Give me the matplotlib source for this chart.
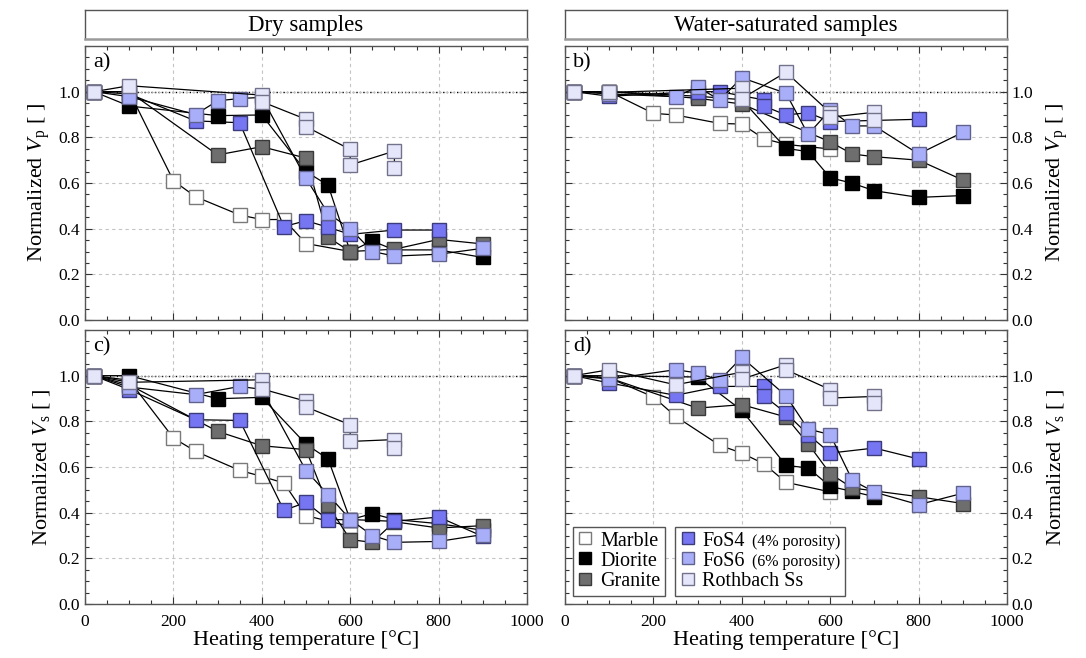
import matplotlib
matplotlib.use("Agg")
import matplotlib.pyplot as plt
from matplotlib.ticker import MultipleLocator
from matplotlib.offsetbox import AnchoredOffsetbox, VPacker, HPacker, TextArea, DrawingArea
from matplotlib.lines import Line2D

plt.rcParams['font.family'] = ['Liberation Serif', 'DejaVu Serif']
plt.rcParams['mathtext.fontset'] = 'custom'
plt.rcParams['mathtext.rm'] = 'Liberation Serif'
plt.rcParams['mathtext.it'] = 'Liberation Serif:italic'

# ------------------------------------------------------------
# data
# ------------------------------------------------------------

# a) Vp dry
a_marble_t = [20, 100, 200, 250, 350, 400, 450, 500, 600]
a_marble = [1.0, 1.0, 0.61, 0.54, 0.46, 0.44, 0.44, 0.335, 0.30]
a_diorite_t = [20, 100, 300, 400, 500, 550, 600, 650, 700, 800, 900]
a_diorite = [1.0, 0.937, 0.895, 0.898, 0.65, 0.59, 0.30, 0.346, 0.307, 0.307, 0.274]
a_granite_t = [20, 100, 300, 400, 500, 550, 600, 700, 800, 900]
a_granite = [1.0, 1.0, 0.723, 0.759, 0.709, 0.362, 0.30, 0.31, 0.353, 0.333]
a_fos4_t = [20, 100, 250, 350, 450, 500, 550, 600, 700, 800]
a_fos4 = [1.0, 0.99, 0.872, 0.864, 0.409, 0.435, 0.406, 0.375, 0.394, 0.394]
a_fos6_t = [20, 100, 250, 300, 350, 400, 500, 550, 600, 650, 700, 800, 900]
a_fos6 = [1.0, 0.978, 0.90, 0.96, 0.97, 0.975, 0.62, 0.467, 0.40, 0.30, 0.28, 0.288, 0.314]
a_roth_t = [20, 100, 400, 400, 500, 500, 600, 600, 700, 700]
a_roth = [1.0, 1.026, 0.985, 0.956, 0.879, 0.847, 0.747, 0.679, 0.74, 0.664]

# b) Vp water-saturated
b_marble_t = [20, 100, 200, 250, 350, 400, 450, 500, 600]
b_marble = [1.0, 1.0, 0.905, 0.898, 0.861, 0.858, 0.794, 0.769, 0.749]
b_diorite_t = [20, 100, 300, 400, 500, 550, 600, 650, 700, 800, 900]
b_diorite = [1.0, 1.0, 0.98, 0.965, 0.752, 0.737, 0.623, 0.599, 0.566, 0.537, 0.545]
b_granite_t = [20, 100, 300, 400, 600, 650, 700, 800, 900]
b_granite = [1.0, 1.0, 0.971, 0.946, 0.78, 0.727, 0.715, 0.70, 0.613]
b_fos4_t = [20, 100, 300, 350, 450, 450, 500, 550, 600, 800]
b_fos4 = [1.0, 0.98, 1.0, 1.0, 0.964, 0.937, 0.898, 0.908, 0.869, 0.879]
b_fos6_t = [20, 100, 250, 300, 350, 400, 500, 550, 600, 650, 700, 800, 900]
b_fos6 = [1.0, 0.99, 0.978, 1.02, 0.964, 1.061, 0.993, 0.813, 0.92, 0.85, 0.85, 0.727, 0.822]
b_roth_t = [20, 100, 400, 400, 500, 600, 600, 700, 700]
b_roth = [1.0, 0.997, 1.015, 0.97, 1.085, 0.908, 0.888, 0.91, 0.876]

# c) Vs dry
c_marble_t = [20, 100, 200, 250, 350, 400, 450, 500, 600]
c_marble = [1.0, 0.98, 0.727, 0.669, 0.585, 0.559, 0.53, 0.387, 0.34]
c_diorite_t = [20, 100, 300, 400, 500, 550, 600, 650, 700, 800, 900]
c_diorite = [1.0, 1.0, 0.899, 0.905, 0.70, 0.635, 0.369, 0.396, 0.37, 0.352, 0.323]
c_granite_t = [20, 100, 300, 400, 500, 550, 600, 650, 700, 800, 900]
c_granite = [1.0, 0.96, 0.756, 0.693, 0.676, 0.432, 0.282, 0.27, 0.36, 0.333, 0.343]
c_fos4_t = [20, 100, 250, 350, 450, 500, 550, 600, 700, 800, 900]
c_fos4 = [1.0, 0.939, 0.807, 0.804, 0.41, 0.445, 0.369, 0.37, 0.362, 0.381, 0.296]
c_fos6_t = [20, 100, 250, 350, 400, 500, 550, 600, 650, 700, 800, 900]
c_fos6 = [1.0, 0.95, 0.917, 0.953, 0.94, 0.584, 0.479, 0.37, 0.30, 0.27, 0.274, 0.304]
c_roth_t = [20, 100, 400, 400, 500, 500, 600, 600, 700, 700]
c_roth = [1.0, 0.971, 0.982, 0.942, 0.888, 0.863, 0.785, 0.712, 0.72, 0.683]

# d) Vs water-saturated
d_marble_t = [20, 100, 200, 250, 350, 400, 450, 500, 600]
d_marble = [1.0, 0.99, 0.907, 0.822, 0.695, 0.661, 0.614, 0.533, 0.491]
d_diorite_t = [20, 100, 300, 400, 500, 550, 600, 650, 700]
d_diorite = [1.0, 1.0, 0.994, 0.848, 0.607, 0.596, 0.515, 0.493, 0.47]
d_granite_t = [20, 100, 300, 400, 500, 550, 600, 650, 800, 900]
d_granite = [1.0, 0.99, 0.858, 0.873, 0.819, 0.702, 0.571, 0.508, 0.47, 0.44]
d_fos4_t = [20, 100, 250, 350, 450, 450, 500, 550, 600, 700, 800]
d_fos4 = [1.0, 0.968, 0.914, 0.953, 0.953, 0.912, 0.836, 0.742, 0.661, 0.683, 0.635]
d_fos6_t = [20, 100, 250, 300, 350, 400, 500, 550, 600, 650, 700, 800, 900]
d_fos6 = [1.0, 0.985, 1.026, 1.012, 0.98, 1.08, 0.912, 0.766, 0.742, 0.542, 0.49, 0.435, 0.485]
d_roth_t = [20, 100, 250, 400, 400, 500, 500, 600, 600, 700, 700]
d_roth = [1.0, 1.026, 0.96, 1.015, 0.985, 1.048, 1.026, 0.939, 0.902, 0.909, 0.88]

names = ["Marble", "Diorite", "Granite", "FoS4", "FoS6", "Rothbach Ss"]
notes = ["", "", "", "(4% porosity)", "(6% porosity)", ""]
faces = ["#ffffff", "#000000", "#6e6e6e", "#7676f2", "#a9aef9", "#e6e6fa"]
edges = ["#7a7a7a", "#000000", "#3a3a3a", "#3c3c7c", "#62628e", "#72728c"]
draw_order = [0, 5, 4, 3, 2, 1]

panels = [
    ("a)", [(a_marble_t, a_marble), (a_diorite_t, a_diorite), (a_granite_t, a_granite),
            (a_fos4_t, a_fos4), (a_fos6_t, a_fos6), (a_roth_t, a_roth)]),
    ("b)", [(b_marble_t, b_marble), (b_diorite_t, b_diorite), (b_granite_t, b_granite),
            (b_fos4_t, b_fos4), (b_fos6_t, b_fos6), (b_roth_t, b_roth)]),
    ("c)", [(c_marble_t, c_marble), (c_diorite_t, c_diorite), (c_granite_t, c_granite),
            (c_fos4_t, c_fos4), (c_fos6_t, c_fos6), (c_roth_t, c_roth)]),
    ("d)", [(d_marble_t, d_marble), (d_diorite_t, d_diorite), (d_granite_t, d_granite),
            (d_fos4_t, d_fos4), (d_fos6_t, d_fos6), (d_roth_t, d_roth)]),
]

# ------------------------------------------------------------
# figure
# ------------------------------------------------------------
W, H = 1086, 658
fig = plt.figure(figsize=(W / 100, H / 100), dpi=100)

spine_c = "#555555"
lefts = [85, 565]
tops = [46, 330]
pw, ph = 442, 274

axes = []
for i, (tag, series) in enumerate(panels):
    col, row = i % 2, i // 2
    ax = fig.add_axes([lefts[col] / W, 1 - (tops[row] + ph) / H, pw / W, ph / H])
    axes.append(ax)

    ax.grid(True, which="major", ls=(0, (3, 3)), color="#c4c4c4", lw=0.8)
    ax.axhline(1.0, color="black", ls=(0, (1, 1.5)), lw=1.0, zorder=1.5)

    for k in draw_order:
        t, v = series[k]
        ax.plot(t, v, color="black", lw=0.9, marker="s", ms=10,
                mfc=faces[k], mec=edges[k], mew=1.0, zorder=2 + k * 0.01)

    ax.set_xlim(0, 1000)
    ax.xaxis.set_major_locator(MultipleLocator(200))
    ax.xaxis.set_minor_locator(MultipleLocator(50))
    ax.yaxis.set_minor_locator(MultipleLocator(0.05))
    ax.set_yticks([0.0, 0.2, 0.4, 0.6, 0.8, 1.0])
    ax.set_yticklabels(["0.0", "0.2", "0.4", "0.6", "0.8", "1.0"])
    ax.set_ylim(0, 1.2)
    ax.tick_params(which="both", direction="in", top=True, right=True,
                   color="#333333", labelsize=12.5)
    ax.tick_params(which="major", length=5, width=0.8)
    ax.tick_params(which="minor", length=3, width=0.8)
    ax.tick_params(axis="x", which="major", pad=7)
    for s in ax.spines.values():
        s.set_color(spine_c)
        s.set_linewidth(1.0)

    if row == 0:
        ax.tick_params(labelbottom=False)
    else:
        ax.set_xlabel("Heating temperature [°C]", fontsize=16, labelpad=0)

    sub = "p" if row == 0 else "s"
    ylab = r"Normalized $V_{\mathrm{%s}}$ [ ]" % sub
    if col == 1:
        ax.yaxis.tick_right()
        ax.tick_params(which="both", left=True, right=True, labelleft=False, labelright=True)
        ax.yaxis.set_label_position("right")
        ax.set_ylabel(ylab, fontsize=16, labelpad=8)
    else:
        ax.set_ylabel(ylab, fontsize=16, labelpad=5)

    ax.text(0.018, 0.975, tag, transform=ax.transAxes, fontsize=16, va="top", ha="left")

# title boxes
for col, title in enumerate(["Dry samples", "Water-saturated samples"]):
    tb = fig.add_axes([lefts[col] / W, 1 - 39 / H, pw / W, 29 / H])
    tb.set_xticks([])
    tb.set_yticks([])
    for s in tb.spines.values():
        s.set_color(spine_c)
        s.set_linewidth(1.0)
    tb.spines["bottom"].set_color("#9a9a9a")
    tb.spines["bottom"].set_linewidth(1.8)
    tb.text(0.5, 0.45, title, ha="center", va="center", fontsize=16.5, transform=tb.transAxes)


# legend boxes in panel d
def legend_box(ax, idx, x0):
    rows = []
    for k in idx:
        da = DrawingArea(11, 11, 0, 1)
        da.add_artist(Line2D([5.5], [5.5], marker="s", ms=9, ls="none",
                             mfc=faces[k], mec=edges[k], mew=1.0))
        kids = [da, TextArea(names[k], textprops=dict(fontsize=14.5))]
        if notes[k]:
            kids.append(TextArea(notes[k], textprops=dict(fontsize=11.5)))
        rows.append(HPacker(children=kids, pad=0, sep=5, align="baseline"))
    box = VPacker(children=rows, pad=0, sep=1, align="left")
    anc = AnchoredOffsetbox(loc="lower left", child=box, pad=0.35, borderpad=0,
                            frameon=True, bbox_to_anchor=(x0, 0.028),
                            bbox_transform=ax.transAxes)
    anc.patch.set_boxstyle("square", pad=0)
    anc.patch.set_edgecolor(spine_c)
    anc.patch.set_linewidth(1.0)
    anc.set_zorder(5)
    ax.add_artist(anc)


legend_box(axes[3], [0, 1, 2], 0.018)
legend_box(axes[3], [3, 4, 5], 0.249)

fig.savefig("out.png", dpi=100)
